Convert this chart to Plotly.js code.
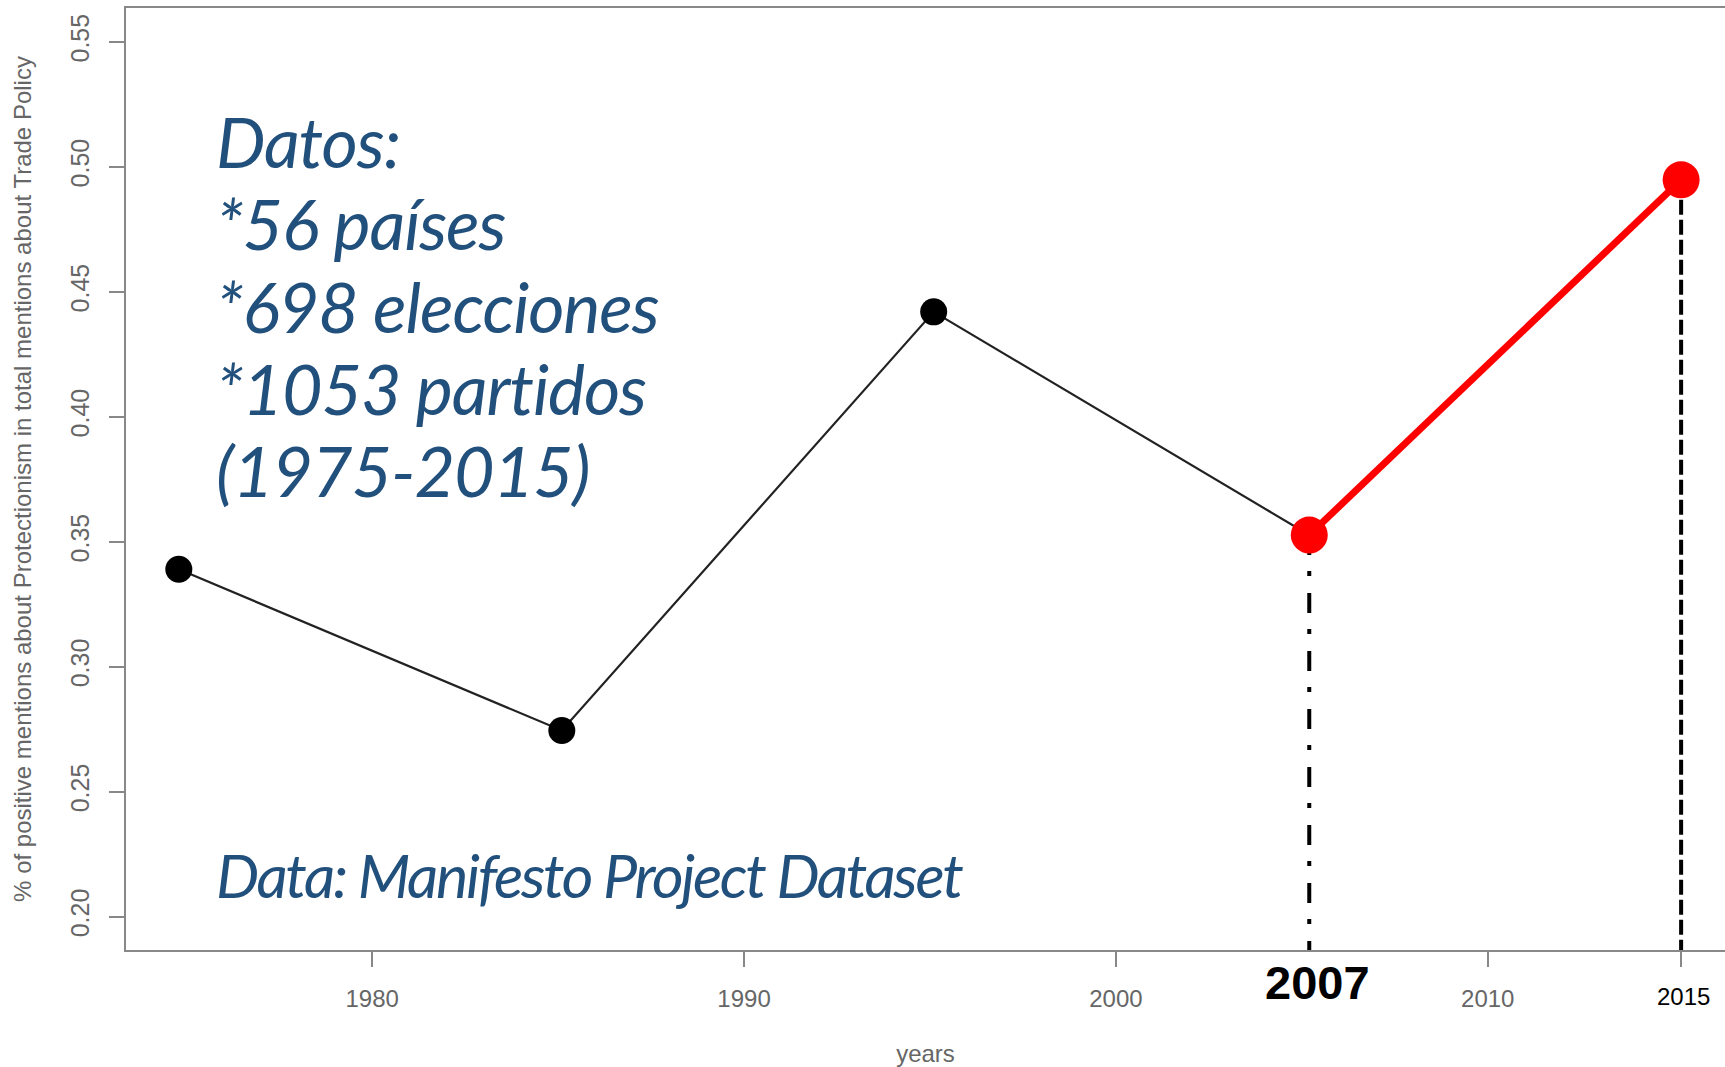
<!DOCTYPE html>
<html>
<head>
<meta charset="utf-8">
<script src="https://cdn.plot.ly/plotly-3.0.1.min.js"></script>
<style>html,body{margin:0;padding:0;background:#fff;}#chart{width:1725px;height:1067px;}</style>
</head>
<body>
<div id="chart"></div>
<script>
// Data
const years = [1974.8, 1985.1, 1995.1, 2005.2, 2015.2];
const share = [0.339, 0.2745, 0.442, 0.3527, 0.4948];
const xTickVals = [1980, 1990, 2000, 2010];
const xTickText = ['1980', '1990', '2000', '2010'];
const yTickVals = [0.20, 0.25, 0.30, 0.35, 0.40, 0.45, 0.50, 0.55];
const yTickText = ['0.20', '0.25', '0.30', '0.35', '0.40', '0.45', '0.50', '0.55'];
const highlightLabel = '2007';
const endLabel = '2015';
const infoLines = ['Datos:', '*56 países', '*698 elecciones', '*1053 partidos', '(1975-2015)'];
const sourceLine = 'Data: Manifesto Project Dataset';
const yTitle = '% of positive mentions about Protectionism in total mentions about Trade Policy';
const xTitle = 'years';

const xRange = [1973.38, 2016.38];
const yRange = [0.18668, 0.56356];

const gray = '#666';
const blue = '#22507c';

const traces = [
  { x: years.slice(0, 4), y: share.slice(0, 4), mode: 'lines',
    line: { color: '#222', width: 2.2 }, hoverinfo: 'skip' },
  { x: years.slice(0, 3), y: share.slice(0, 3), mode: 'markers',
    marker: { color: '#000', size: 27 }, hoverinfo: 'skip' },
  { x: [years[3], years[3]], y: [share[3], yRange[0]], mode: 'lines',
    line: { color: '#000', width: 4, dash: '20px,16px,5px,17px' }, hoverinfo: 'skip' },
  { x: [years[4], years[4]], y: [share[4], yRange[0]], mode: 'lines',
    line: { color: '#000', width: 4, dash: '15px,5px' }, hoverinfo: 'skip' },
  { x: years.slice(3), y: share.slice(3), mode: 'lines+markers',
    line: { color: '#ff0000', width: 7 }, marker: { color: '#ff0000', size: 37 }, hoverinfo: 'skip' }
];

const L = 126, T = 8, W = 1725, H = 1067, B = 117;
const pw = W - L, ph = H - T - B;
function px(x) { return (x - L) / pw; }
function py(y) { return (H - B - y) / ph; }

const annotations = [];
const textFont = { family: 'Lato', style: 'italic', color: blue };
infoLines.forEach((t, i) => {
  annotations.push({ text: '<span style="letter-spacing:-1.1px">' + t + '</span>', xref: 'paper', yref: 'paper',
    x: px(214), y: py(141 + i * 82.3),
    xanchor: 'left', yanchor: 'middle', showarrow: false, font: Object.assign({ size: 70 }, textFont) });
});
annotations.push({ text: '<span style="letter-spacing:-2.3px">' + sourceLine + '</span>', xref: 'paper', yref: 'paper',
  x: px(214), y: py(874),
  xanchor: 'left', yanchor: 'middle', showarrow: false, font: Object.assign({ size: 61 }, textFont) });
annotations.push({ text: '<b>' + highlightLabel + '</b>', xref: 'x', yref: 'paper', x: years[3], xshift: 8,
  y: py(982), xanchor: 'center', yanchor: 'middle', showarrow: false,
  font: { family: 'Liberation Sans', size: 47, color: '#000' } });
annotations.push({ text: endLabel, xref: 'x', yref: 'paper', x: years[4], xshift: 2,
  y: py(996), xanchor: 'center', yanchor: 'middle', showarrow: false,
  font: { family: 'Liberation Sans', size: 24, color: '#000' } });

const layout = {
  width: W, height: H,
  margin: { l: L, r: 0, t: T, b: B, pad: 0 },
  paper_bgcolor: '#fff', plot_bgcolor: '#fff',
  showlegend: false,
  xaxis: {
    range: xRange, tickmode: 'array', tickvals: xTickVals.concat([years[4]]),
    ticktext: xTickText.concat(['']),
    ticks: 'outside', ticklen: 15, tickwidth: 2, tickcolor: '#888',
    showline: true, linecolor: '#888', linewidth: 2, mirror: true,
    showgrid: false, zeroline: false, ticklabelstandoff: 11,
    tickfont: { family: 'Liberation Sans', size: 24, color: gray },
    title: { text: xTitle, font: { family: 'Liberation Sans', size: 24, color: gray }, standoff: 42 },
    automargin: false
  },
  yaxis: {
    range: yRange, tickmode: 'array', tickvals: yTickVals, ticktext: yTickText, tickangle: -90,
    ticks: 'outside', ticklen: 15, tickwidth: 2, tickcolor: '#888',
    showline: true, linecolor: '#888', linewidth: 2, mirror: false,
    showgrid: false, zeroline: false, ticklabelstandoff: 10,
    tickfont: { family: 'Liberation Sans', size: 25, color: gray },
    title: { text: yTitle, font: { family: 'Liberation Sans', size: 24, color: gray }, standoff: 28 },
    automargin: false
  },
  annotations: annotations
};

Plotly.newPlot('chart', traces, layout, { staticPlot: true, displayModeBar: false });
</script>
</body>
</html>
